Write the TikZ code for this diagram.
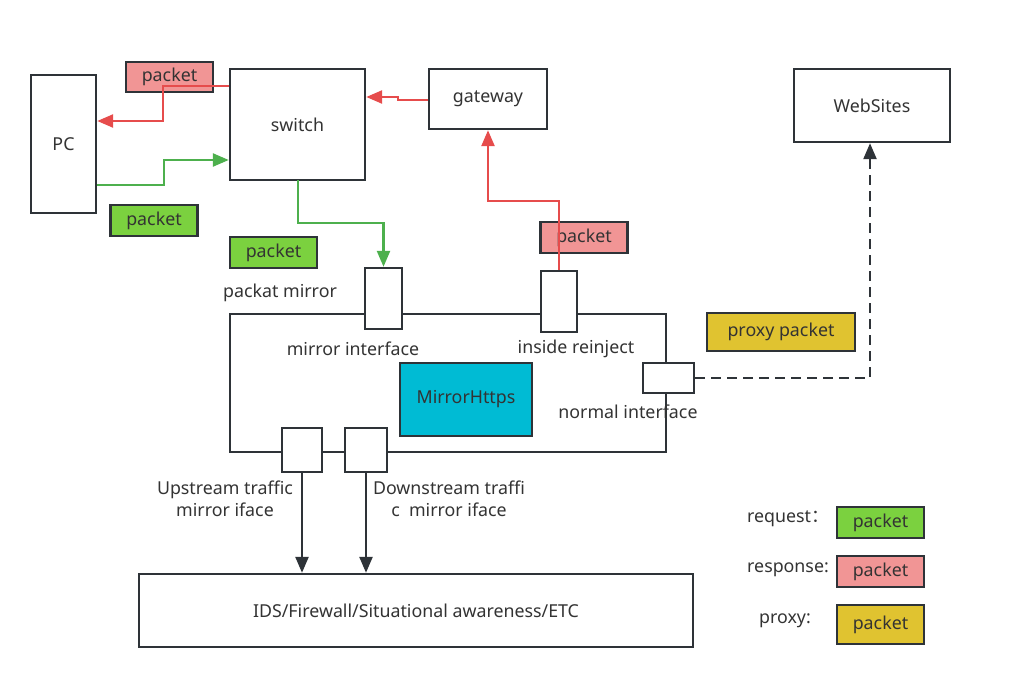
\documentclass[tikz,border=0pt]{standalone}
\usepackage{fontspec}
\setmainfont{Noto Sans}
\newfontfamily\cjk{Noto Sans CJK SC}
\usetikzlibrary{arrows.meta,calc}
\definecolor{ink}{HTML}{2E3338}
\definecolor{txt}{HTML}{333333}
\definecolor{rline}{HTML}{E64C4C}
\definecolor{gline}{HTML}{4DB04D}
\definecolor{pinkfill}{HTML}{F19595}
\definecolor{greenfill}{HTML}{7BD13F}
\definecolor{yellowfill}{HTML}{E0C330}
\definecolor{cyanfill}{HTML}{00BBD4}
\begin{document}
\begin{tikzpicture}[x=1pt,y=-1pt,
  box/.style={draw=ink, line width=2.4pt, fill=white, inner sep=0pt, text=txt, font=\fontsize{17.8}{20}\selectfont},
  pkt/.style={box, minimum width=87pt, minimum height=31pt},
  lbl/.style={inner sep=0pt, text=txt, font=\fontsize{17.8}{22}\selectfont},
  conn/.style={line width=2.4pt, -{Triangle[length=16pt,width=13pt]}},
  rarr/.style={conn, draw=rline},
  garr/.style={conn, draw=gline},
  karr/.style={conn, draw=ink}]
\useasboundingbox (0,0) rectangle (1014,679);
% packets
\node[pkt, fill=pinkfill, minimum height=30pt] (p1) at (169.5,77) {packet};
\node[pkt, fill=greenfill] (p2) at (154,220.5) {packet};
\node[pkt, fill=greenfill] (p3) at (273.5,252.5) {packet};
\node[pkt, fill=pinkfill] (p4) at (584,237.5) {packet};
\node[box, fill=yellowfill, minimum width=148pt, minimum height=38pt] (pp) at (781,332) {proxy packet};
% main boxes
\node[box, minimum width=65pt, minimum height=138pt] (pc) at (63.5,144) {PC};
\node[box, minimum width=135pt, minimum height=111pt] (sw) at (297.5,124.5) {switch};
\node[box, minimum width=118pt, minimum height=60pt] (gw) at (488,99) {gateway};
\node[box, minimum width=156pt, minimum height=73pt] (web) at (872,105.5) {WebSites};
\node[box, minimum width=436pt, minimum height=138pt] (mainbox) at (448,383) {};
\node[box, fill=cyanfill, minimum width=132pt, minimum height=73pt] (mh) at (466,399.5) {MirrorHttps};
\node[box, minimum width=37pt, minimum height=61pt] (mi) at (383.5,298.5) {};
\node[box, minimum width=36pt, minimum height=61pt] (ri) at (559,301.5) {};
\node[box, minimum width=51pt, minimum height=30pt] (ni) at (668.5,378) {};
\node[box, minimum width=40pt, minimum height=44pt] (up) at (302,450) {};
\node[box, minimum width=42pt, minimum height=44pt] (dn) at (366,450) {};
\node[box, minimum width=554pt, minimum height=73pt] (ids) at (416,610.5) {IDS/Firewall/Situational awareness/ETC};
% labels
\node[lbl] (lpm) at (280,293) {packat mirror};
\node[lbl] (lmi) at (353,349) {mirror interface};
\node[lbl] (lri) at (576,349) {inside reinject};
\node[lbl] (lni) at (628,412) {normal interface};
\node[lbl, align=center] (lup) at (225,499) {Upstream traffic\\mirror iface};
\node[lbl, align=center] (ldn) at (449,499) {Downstream traffi\\c\ \ mirror iface};
% legend
\node[pkt, fill=greenfill] (lg1) at (880.5,522.5) {packet};
\node[pkt, fill=pinkfill] (lg2) at (880.5,571.5) {packet};
\node[pkt, fill=yellowfill, minimum height=39pt] (lg3) at (880.5,624.5) {packet};
\node[lbl, anchor=east] (lt1) at (829,519) {request{\cjk ：}};
\node[lbl, anchor=east] (lt2) at (829,570) {response:};
\node[lbl] (lt3) at (785,621) {proxy:};
% connectors
\draw[rarr] (sw.west |- 0,86) -- (163,86) -- (163,121) -- (pc.east |- 0,121);
\draw[garr] (pc.east |- 0,185) -- (164,185) -- (164,160) -- (sw.west |- 0,160);
\draw[garr] (298,180) -- (298,223) -- (383.5,223) -- (mi.north);
\draw[rarr] (gw.west |- 0,100) -- (398,100) -- (398,97) -- (sw.east |- 0,97);
\draw[rarr] (ri.north) -- (559,201) -- (488,201) -- (gw.south);
\draw[karr, dash pattern=on 10pt off 6pt] (ni.east) -- (870,378) -- (web.south -| 870,0);
\draw[karr] (up.south) -- (up.south |- ids.north);
\draw[karr] (dn.south) -- (dn.south |- ids.north);
\end{tikzpicture}
\end{document}
